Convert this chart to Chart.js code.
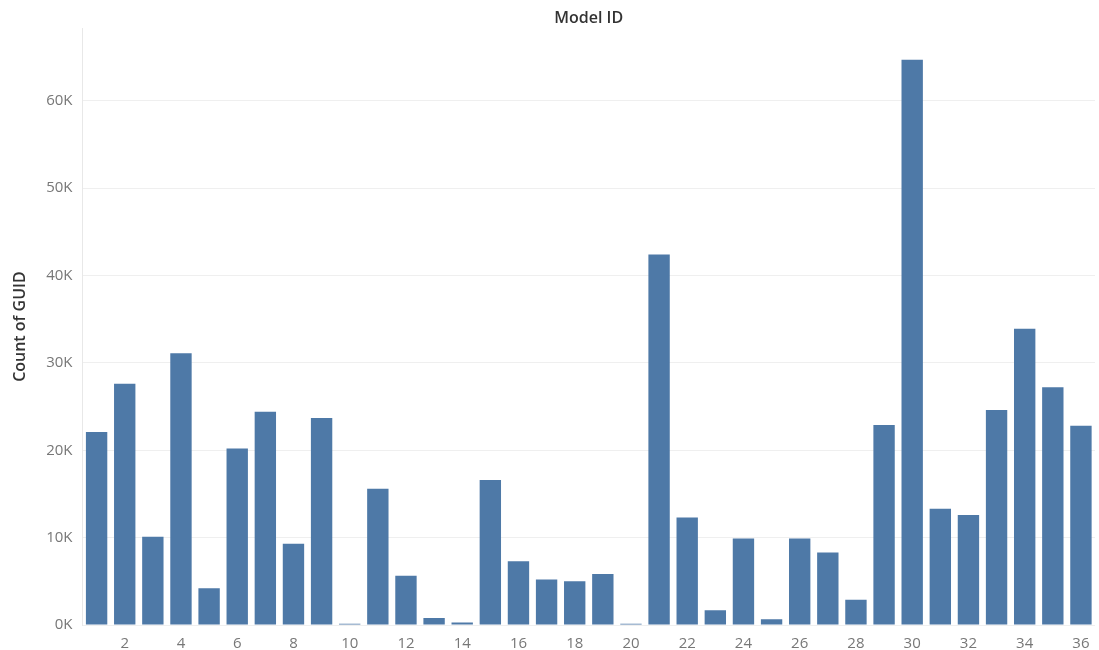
<!DOCTYPE html>
<html>
<head>
<meta charset="utf-8">
<script src="https://cdn.jsdelivr.net/npm/chart.js@4"></script>
<style>
    html, body { margin: 0; padding: 0; background: #fff; }
    #wrap { width: 1099px; height: 650px; }
</style>
</head>
<body>
<div id="wrap"><canvas id="modelChart"></canvas></div>
<script>
// Model IDs 1..36
const modelIds = [
    1, 2, 3, 4, 5, 6, 7, 8, 9, 10, 11, 12,
    13, 14, 15, 16, 17, 18, 19, 20, 21, 22, 23, 24,
    25, 26, 27, 28, 29, 30, 31, 32, 33, 34, 35, 36
];

// Count of GUID per model
const guidCounts = [
    22100, 27600, 10100, 31100, 4200, 20200, 24400, 9300, 23700, 150, 15600, 5650,
    800, 300, 16600, 7300, 5200, 5000, 5850, 150, 42400, 12300, 1700, 9900,
    650, 9900, 8300, 2900, 22900, 64700, 13300, 12600, 24600, 33900, 27200, 22800
];

const yTicks = [0, 10000, 20000, 30000, 40000, 50000, 60000];

const fontFamily = '"Open Sans", "Noto Sans", sans-serif';
const titleFont = { family: fontFamily, size: 16, weight: '600' };

// Initialize Chart
function initChart() {
    const ctx = document.getElementById('modelChart').getContext('2d');
    return new Chart(ctx, {
        type: 'bar',
        data: {
            labels: modelIds,
            datasets: [{
                label: 'Count of GUID',
                data: guidCounts,
                backgroundColor: '#4e79a7',
                categoryPercentage: 1.0,
                barPercentage: 0.76
            }]
        },
        options: {
            responsive: true,
            maintainAspectRatio: false,
            animation: false,
            layout: { padding: { left: 11, right: 4, top: 9, bottom: -5 } },
            plugins: {
                legend: { display: false },
                tooltip: { enabled: false }
            },
            scales: {
                x: {
                    grid: { display: false },
                    border: { display: false },
                    ticks: {
                        autoSkip: false,
                        maxRotation: 0,
                        color: '#777',
                        font: { family: fontFamily, size: 15 },
                        padding: 2,
                        callback: function (value, index) {
                            const id = modelIds[index];
                            return id % 2 === 0 ? String(id) : '';
                        }
                    }
                },
                // header axis on top, only carries the "Model ID" title
                xTop: {
                    type: 'category',
                    position: 'top',
                    grid: { display: false, drawTicks: false },
                    border: { display: false },
                    ticks: { display: false },
                    title: {
                        display: true,
                        text: 'Model ID',
                        color: '#333',
                        font: titleFont,
                        padding: { top: 0, bottom: 0 }
                    }
                },
                y: {
                    min: 0,
                    max: 68300,
                    afterBuildTicks: scale => {
                        scale.ticks = yTicks.map(v => ({ value: v }));
                    },
                    grid: { color: '#efefef', drawTicks: false },
                    border: { display: true, color: '#e8e8e8' },
                    ticks: {
                        color: '#777',
                        font: { family: fontFamily, size: 15 },
                        padding: 10,
                        callback: v => (v / 1000) + 'K'
                    },
                    title: {
                        display: true,
                        text: 'Count of GUID',
                        color: '#333',
                        font: titleFont,
                        padding: { top: 0, bottom: 6 }
                    }
                }
            }
        }
    });
}

document.addEventListener('DOMContentLoaded', () => {
    initChart();
});
</script>
</body>
</html>
